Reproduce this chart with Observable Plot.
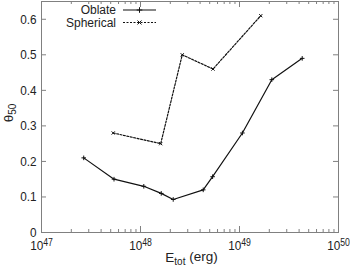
<!DOCTYPE html>
<html><head><meta charset="utf-8">
<script src="https://cdn.jsdelivr.net/npm/d3@7"></script>
<script src="https://cdn.jsdelivr.net/npm/@observablehq/plot@0.6"></script>
<style>
html,body{margin:0;padding:0;background:#fff;}
svg{font-family:"Liberation Sans",Arial,sans-serif;}
</style>
</head><body>
<div id="chart"></div>
<script>
// Data
const oblateE = [2.67e47, 5.4e47, 1.08e48, 1.62e48, 2.14e48, 4.3e48, 5.35e48, 1.07e49, 2.12e49, 4.3e49];
const oblateTheta = [0.21, 0.15, 0.13, 0.11, 0.093, 0.12, 0.157, 0.28, 0.43, 0.49];
const sphericalE = [5.3e47, 1.6e48, 2.64e48, 5.4e48, 1.64e49];
const sphericalTheta = [0.28, 0.25, 0.50, 0.46, 0.61];
const xTickExps = [47, 48, 49, 50];
const yTickValues = [0, 0.1, 0.2, 0.3, 0.4, 0.5, 0.6];
const seriesNames = ["Oblate", "Spherical"];

const oblate = oblateE.map((e, i) => ({e, t: oblateTheta[i]}));
const spherical = sphericalE.map((e, i) => ({e, t: sphericalTheta[i]}));
const xTicks = xTickExps.map(p => Math.pow(10, p));
const minorX = [];
for (let p = 47; p < 50; p++) for (let m = 2; m <= 9; m++) minorX.push(m * Math.pow(10, p));

const W = 350, H = 270, mL = 41, mR = 12, mT = 1, mB = 38;
const pH = H - mT - mB, pW = W - mL - mR;
const frameC = "#808080";
const fs = 13.5;

const plot = Plot.plot({
  width: W, height: H,
  marginLeft: mL, marginRight: mR, marginTop: mT, marginBottom: mB,
  style: {fontFamily: '"Liberation Sans", Arial, sans-serif', fontSize: fs + "px", color: "#222", background: "#fff", overflow: "visible"},
  x: {type: "log", domain: [1e47, 1e50]},
  y: {domain: [0, 0.65]},
  marks: [
    Plot.ruleX(minorX, {x: d => d, insetTop: pH - 3, stroke: frameC}),
    Plot.ruleX(minorX, {x: d => d, insetBottom: pH - 3, stroke: frameC}),
    Plot.ruleX(xTicks, {x: d => d, insetTop: pH - 6, stroke: frameC}),
    Plot.ruleX(xTicks, {x: d => d, insetBottom: pH - 6, stroke: frameC}),
    Plot.ruleY(yTickValues, {y: d => d, insetLeft: pW - 5, stroke: frameC}),
    Plot.ruleY(yTickValues, {y: d => d, insetRight: pW - 5, stroke: frameC}),
    Plot.frame({stroke: frameC}),
    Plot.axisX({ticks: xTicks, tickSize: 0, tickPadding: 8, tickFormat: d => "10|" + Math.round(Math.log10(d)), label: null, fontSize: fs}),
    Plot.axisY({ticks: yTickValues, tickSize: 0, tickPadding: 5, tickFormat: d => d === 0 ? "0" : d.toFixed(1), label: null, fontSize: fs}),
    Plot.line(oblate, {x: "e", y: "t", stroke: "#111", strokeWidth: 1.2}),
    Plot.dot(oblate, {x: "e", y: "t", symbol: "plus", r: 1.6, stroke: "#111", strokeWidth: 1}),
    Plot.line(spherical, {x: "e", y: "t", stroke: "#111", strokeWidth: 1.2, strokeDasharray: "2,1.5"}),
    Plot.dot(spherical, {x: "e", y: "t", symbol: "times", r: 1.6, stroke: "#111", strokeWidth: 1})
  ]
});
document.getElementById("chart").appendChild(plot);

const svg = d3.select(plot);
svg.selectAll("g[aria-label='x-axis tick label'] text").each(function() {
  const t = d3.select(this);
  const s = t.text();
  if (s.indexOf("|") < 0) return;
  const [b, e] = s.split("|");
  t.text(null);
  t.append("tspan").text(b);
  t.append("tspan").attr("dy", "-0.45em").attr("font-size", "10px").text(e);
});
// slightly condensed tick labels, as in the reference
svg.selectAll("g[aria-label='x-axis tick label'] text, g[aria-label='y-axis tick label'] text").each(function() {
  const tr = this.getAttribute("transform") || "";
  this.setAttribute("transform", tr + " scale(0.87,1)");
});

// axis labels
const ys = plot.scale("y");
const xl = svg.append("text").attr("x", (mL + W - mR) / 2 + 2).attr("y", H - 8)
  .attr("text-anchor", "middle").attr("font-size", fs + "px").attr("fill", "#222");
xl.append("tspan").text("E");
xl.append("tspan").attr("font-size", "10px").attr("dy", "0.3em").text("tot");
xl.append("tspan").attr("dy", "-0.3em").text(" (erg)");

const yl = svg.append("text").attr("transform", `translate(13,${ys.apply(0.335)}) rotate(-90)`)
  .attr("text-anchor", "middle").attr("font-size", fs + "px").attr("fill", "#222");
yl.append("tspan").text("θ");
yl.append("tspan").attr("font-size", "10px").attr("dy", "0.3em").text("50");

// legend
const lg = svg.append("g").attr("font-size", "12px").attr("fill", "#222");
const rows = [{name: seriesNames[0], dash: null, sym: "plus"}, {name: seriesNames[1], dash: "2,1.5", sym: "times"}];
rows.forEach((r, i) => {
  const y = 10 + i * 12.5;
  lg.append("text").attr("x", 116).attr("y", y).attr("dy", "0.35em").attr("text-anchor", "end").text(r.name);
  lg.append("line").attr("x1", 123).attr("x2", 156).attr("y1", y).attr("y2", y)
    .attr("stroke", "#111").attr("stroke-width", 1.2).attr("stroke-dasharray", r.dash);
  lg.append("path").attr("d", d3.symbol(r.sym === "plus" ? d3.symbolPlus : d3.symbolTimes, 12)())
    .attr("transform", `translate(139.5,${y})`).attr("fill", "none").attr("stroke", "#111");
});
</script>
</body></html>
